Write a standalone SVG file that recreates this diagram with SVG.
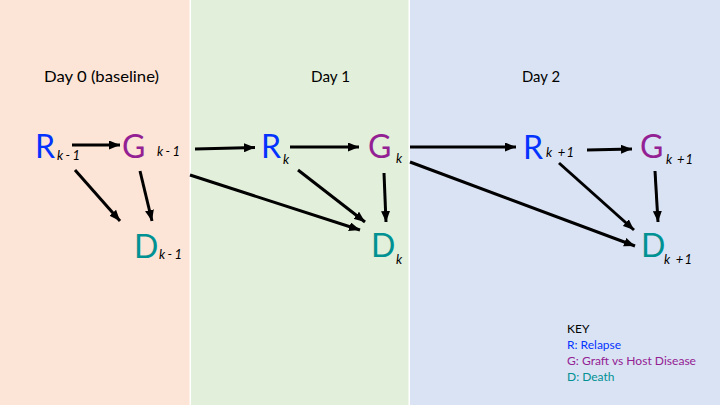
<svg xmlns="http://www.w3.org/2000/svg" width="720" height="405" viewBox="0 0 720 405">
<style>
.big{font-family:Lato,"Open Sans","Liberation Sans",sans-serif;font-size:32px}
.sub{font-family:Lato,"Open Sans","Liberation Sans",sans-serif;font-size:13px;font-style:italic;fill:#000}
.title{font-family:Lato,"Open Sans","Liberation Sans",sans-serif;font-size:15px;fill:#000}
.key{font-family:Lato,"Open Sans","Liberation Sans",sans-serif;font-size:12px}
.r{fill:#0433FF}.g{fill:#942193}.d{fill:#009193}
.edge{stroke:#000;stroke-width:3;fill:none;marker-end:url(#ah)}
</style>
<defs>
<marker id="ah" markerUnits="userSpaceOnUse" markerWidth="11" markerHeight="9" refX="11" refY="4.5" orient="auto">
<path d="M0,0 L11,4.5 L0,9 z" fill="#000"/>
</marker>
</defs>
<rect width="720" height="405" fill="#fff"/>
<rect x="0" y="0" width="189.5" height="405" fill="#FCE4D6"/>
<rect x="191" y="0" width="217.5" height="405" fill="#E2EFDA"/>
<rect x="410" y="0" width="310" height="405" fill="#DAE3F3"/>
<g id="titles">
<text class="title" x="44" y="82" textLength="115" lengthAdjust="spacingAndGlyphs">Day 0 (baseline)</text>
<text class="title" x="311" y="82" textLength="39" lengthAdjust="spacingAndGlyphs">Day 1</text>
<text class="title" x="522" y="82" textLength="38" lengthAdjust="spacingAndGlyphs">Day 2</text>
</g>
<g id="connectors">
<line class="edge" x1="72" y1="145" x2="120" y2="145"/>
<line class="edge" x1="75" y1="170" x2="120" y2="221"/>
<line class="edge" x1="140" y1="171" x2="152" y2="221"/>
<line class="edge" x1="195" y1="149" x2="255" y2="147.5"/>
<line class="edge" x1="190" y1="175" x2="360" y2="230"/>
<line class="edge" x1="290" y1="147" x2="359" y2="147"/>
<line class="edge" x1="298" y1="170" x2="365" y2="222"/>
<line class="edge" x1="384" y1="173" x2="386" y2="222"/>
<line class="edge" x1="410" y1="147" x2="516" y2="147"/>
<line class="edge" x1="410" y1="162" x2="635" y2="246"/>
<line class="edge" x1="587" y1="150" x2="632" y2="149"/>
<line class="edge" x1="559" y1="163" x2="634" y2="230"/>
<line class="edge" x1="655" y1="171" x2="658" y2="222"/>
</g>
<g id="R_km1"><text class="big r" x="35" y="158">R</text><text class="sub" x="57" y="160" textLength="23">k - 1</text></g>
<g id="G_km1"><text class="big g" x="122" y="158">G</text><text class="sub" x="157" y="156" textLength="23">k - 1</text></g>
<g id="D_km1"><text class="big d" x="134" y="258">D</text><text class="sub" x="159" y="259" textLength="23">k - 1</text></g>
<g id="R_k"><text class="big r" x="261" y="158">R</text><text class="sub" x="283" y="164">k</text></g>
<g id="G_k"><text class="big g" x="368" y="158">G</text><text class="sub" x="396" y="163">k</text></g>
<g id="D_k"><text class="big d" x="371" y="257">D</text><text class="sub" x="396" y="264">k</text></g>
<g id="R_kp1"><text class="big r" x="523" y="159">R</text><text class="sub" x="546" y="157" textLength="28">k +1</text></g>
<g id="G_kp1"><text class="big g" x="640" y="158">G</text><text class="sub" x="666" y="164" textLength="27">k +1</text></g>
<g id="D_kp1"><text class="big d" x="641" y="257">D</text><text class="sub" x="664" y="264" textLength="28">k +1</text></g>
<g id="key">
<text class="key" x="567" y="333" fill="#000">KEY</text>
<text class="key r" x="567" y="349">R: Relapse</text>
<text class="key g" x="567" y="365" textLength="129" lengthAdjust="spacingAndGlyphs">G: Graft vs Host Disease</text>
<text class="key d" x="567" y="381">D: Death</text>
</g>
</svg>
